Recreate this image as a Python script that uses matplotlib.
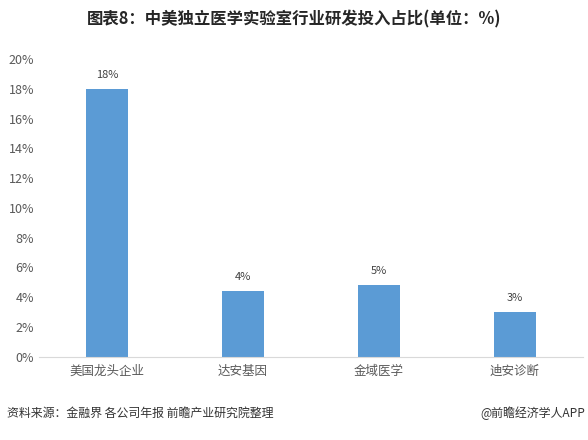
import matplotlib
matplotlib.use('Agg')
import matplotlib.pyplot as plt

plt.rcParams['font.family'] = ['Noto Sans CJK SC', 'DejaVu Sans']

categories = ['美国龙头企业', '达安基因', '金域医学', '迪安诊断']
values = [18.0, 4.4, 4.8, 3.0]
y_ticks = [0, 2, 4, 6, 8, 10, 12, 14, 16, 18, 20]

fig = plt.figure(figsize=(5.88, 4.4), dpi=100)
ax = fig.add_axes([0.066, 0.189, 0.925, 0.677])

x = range(len(categories))
bars = ax.bar(x, values, width=0.31, color='#5B9BD5')
for b, v in zip(bars, values):
    ax.text(b.get_x() + b.get_width() / 2, v + 0.6, f'{v:.0f}%',
            ha='center', va='bottom', fontsize=8, color='#404040')

ax.set_xlim(-0.5, 3.5)
ax.set_ylim(0, 20)
ax.set_yticks(y_ticks)
ax.set_yticklabels([f'{t}%' for t in y_ticks])
ax.set_xticks(list(x))
ax.set_xticklabels(categories)
ax.tick_params(axis='both', length=0, labelsize=9, colors='#595959')
ax.tick_params(axis='x', pad=6)
for s in ['top', 'right', 'left']:
    ax.spines[s].set_visible(False)
ax.spines['bottom'].set_color('#D9D9D9')

fig.text(0.5, 0.955, '图表8：中美独立医学实验室行业研发投入占比(单位：%)',
         ha='center', va='center', fontsize=11.8, fontweight='bold', color='#262626')
fig.text(0.012, 0.06, '资料来源：金融界 各公司年报 前瞻产业研究院整理',
         ha='left', va='center', fontsize=8.6, color='#333333')
fig.text(0.995, 0.06, '@前瞻经济学人APP',
         ha='right', va='center', fontsize=8.6, color='#333333')

fig.savefig('out.png', dpi=100)
